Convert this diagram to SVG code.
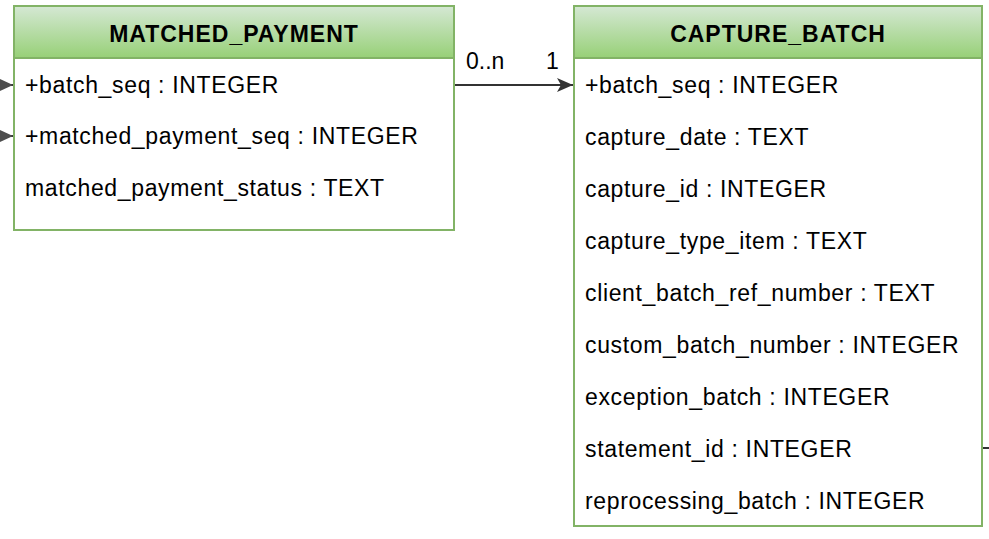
<svg xmlns="http://www.w3.org/2000/svg" width="989" height="539" viewBox="0 0 989 539">
<defs>
<linearGradient id="hg" x1="0" y1="0" x2="0" y2="1">
<stop offset="0" stop-color="#d5e8d4"/>
<stop offset="1" stop-color="#97d077"/>
</linearGradient>
<marker id="arr" markerWidth="18" markerHeight="16" refX="16" refY="8" orient="auto" markerUnits="userSpaceOnUse">
<path d="M0,1 L16,8 L0,15 L4,8 Z" fill="#333333"/>
</marker>
<marker id="arr2" markerWidth="16" markerHeight="16" refX="15" refY="8" orient="auto" markerUnits="userSpaceOnUse">
<path d="M0,1 L15,8 L0,15 Z" fill="#4d4d4d"/>
</marker>
<style>
.box{fill:#ffffff;stroke:#82b366;stroke-width:2}
.hd{fill:url(#hg);stroke:#82b366;stroke-width:2}
.t{font-family:"Liberation Sans",Arial,sans-serif;font-size:23px;letter-spacing:0.65px;fill:#000}
.l{font-family:"Liberation Sans",Arial,sans-serif;font-size:23px;fill:#000}
.h{font-family:"Liberation Sans",Arial,sans-serif;font-size:23px;font-weight:bold;letter-spacing:1px;fill:#000;text-anchor:middle}
.c{fill:none;stroke:#333333;stroke-width:2}
</style>
</defs>
<g id="matched_payment">
<rect class="box" x="14" y="6" width="440" height="224"/>
<rect class="hd" x="14" y="6" width="440" height="52"/>
<text class="h" x="234" y="42">MATCHED_PAYMENT</text>
<text class="t" x="25" y="93">+batch_seq : INTEGER</text>
<text class="t" x="25" y="144">+matched_payment_seq : INTEGER</text>
<text class="t" x="25" y="196">matched_payment_status : TEXT</text>
</g>
<g id="capture_batch">
<rect class="box" x="574" y="6" width="408" height="520"/>
<rect class="hd" x="574" y="6" width="408" height="52"/>
<text class="h" x="778" y="42">CAPTURE_BATCH</text>
<text class="t" x="585" y="93">+batch_seq : INTEGER</text>
<text class="t" x="585" y="145">capture_date : TEXT</text>
<text class="t" x="585" y="197">capture_id : INTEGER</text>
<text class="t" x="585" y="249">capture_type_item : TEXT</text>
<text class="t" x="585" y="301">client_batch_ref_number : TEXT</text>
<text class="t" x="585" y="353">custom_batch_number : INTEGER</text>
<text class="t" x="585" y="405">exception_batch : INTEGER</text>
<text class="t" x="585" y="457">statement_id : INTEGER</text>
<text class="t" x="585" y="509">reprocessing_batch : INTEGER</text>
</g>
<g id="connectors">
<path class="c" d="M455,85 L573,85" marker-end="url(#arr)"/>
<text class="l" x="466" y="69">0..n</text>
<text class="l" x="546" y="69">1</text>
<path class="c" d="M-20,85 L13,85" marker-end="url(#arr2)"/>
<path class="c" d="M-20,136 L13,136" marker-end="url(#arr2)"/>
<path class="c" d="M983,448 L995,448"/>
</g>
</svg>
